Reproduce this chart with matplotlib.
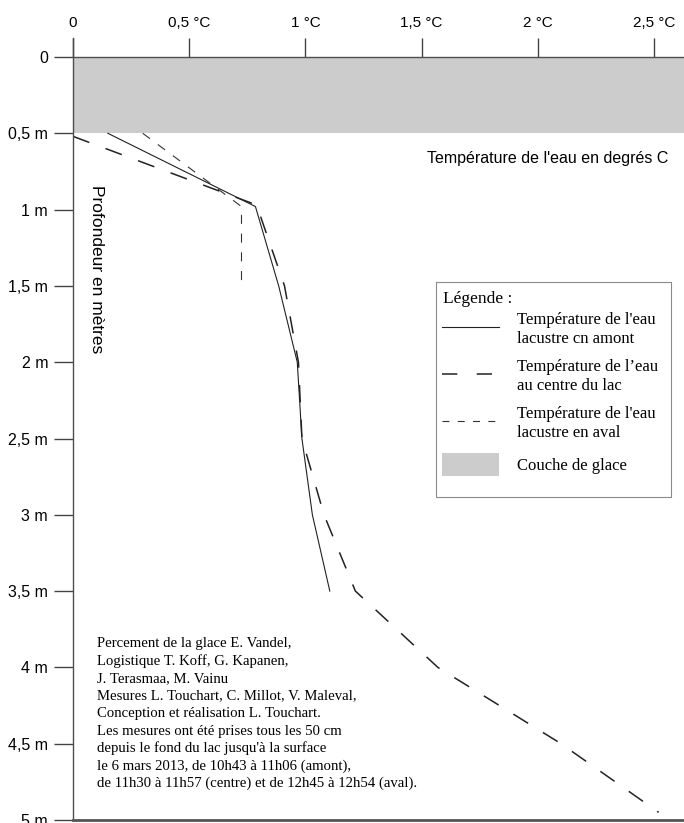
import matplotlib
matplotlib.use('Agg')
import matplotlib.pyplot as plt
from matplotlib.lines import Line2D
from matplotlib.patches import Patch, Rectangle

# profils de temperature sous la glace
depth_amont = [0.5, 0.98, 1.5, 2.0, 2.5, 3.0, 3.5]
temp_amont = [0.15, 0.785, 0.885, 0.965, 0.985, 1.03, 1.105]

depth_centre = [0.52, 0.97, 1.5, 2.0, 2.5, 3.0, 3.5, 4.0, 4.5, 4.95]
temp_centre = [0.0, 0.79, 0.91, 0.97, 0.985, 1.08, 1.215, 1.57, 2.10, 2.52]

depth_aval = [0.5, 0.98, 1.5]
temp_aval = [0.30, 0.725, 0.725]

ice_depth = 0.5

x_ticks = [0, 0.5, 1, 1.5, 2, 2.5]
x_labels = ['0', '0,5 °C', '1 °C', '1,5 °C', '2 °C', '2,5 °C']
y_ticks = [0, 0.5, 1, 1.5, 2, 2.5, 3, 3.5, 4, 4.5, 5]
y_labels = ['0', '0,5 m', '1 m', '1,5 m', '2 m', '2,5 m', '3 m', '3,5 m', '4 m', '4,5 m', '5 m']

legend_labels = ["Température de l'eau\nlacustre cn amont",
                 "Température de l’eau\nau centre du lac",
                 "Température de l'eau\nlacustre en aval",
                 "Couche de glace"]

credits = ["Percement de la glace E. Vandel,",
           "Logistique T. Koff, G. Kapanen,",
           "J. Terasmaa, M. Vainu",
           "Mesures L. Touchart, C. Millot, V. Maleval,",
           "Conception et réalisation L. Touchart.",
           "Les mesures ont été prises tous les 50 cm",
           "depuis le fond du lac jusqu'à la surface",
           "le 6 mars 2013, de 10h43 à 11h06 (amont),",
           "de 11h30 à 11h57 (centre) et de 12h45 à 12h54 (aval)."]

plt.rcParams['lines.scale_dashes'] = False
sans = ['Liberation Sans', 'DejaVu Sans']
serif = ['Liberation Serif', 'DejaVu Serif']

W, H = 684, 823
fig = plt.figure(figsize=(W / 100, H / 100), dpi=100)
ax = fig.add_axes([73 / W, 3 / H, 611 / W, 763 / H])

ice_color = '#cccccc'
ax.axhspan(0, ice_depth, color=ice_color, lw=0, zorder=0)

ax.plot(temp_amont, depth_amont, color='#222222', lw=0.8, ls='-')
ax.plot(temp_centre, depth_centre, color='#222222', lw=1.1, dashes=(12.5, 12.5))
ax.plot(temp_aval, depth_aval, color='#333333', lw=0.8, dashes=(6.5, 7))

ax.set_xlim(0, 2.629)
ax.set_ylim(5, 0)

ax.xaxis.tick_top()
ax.set_xticks(x_ticks)
ax.set_xticklabels(x_labels, family=sans, fontsize=11)
ax.set_yticks(y_ticks)
ax.set_yticklabels(y_labels, family=sans, fontsize=11.5)
ax.tick_params(axis='both', direction='out', length=13.5, width=1, color='#444444')
ax.tick_params(axis='x', pad=6)
ax.tick_params(axis='y', pad=4.5)

ax.spines['right'].set_visible(False)
for side in ['left', 'top']:
    ax.spines[side].set_color('#4d4d4d')
    ax.spines[side].set_linewidth(1.0)
ax.spines['bottom'].set_color('#555555')
ax.spines['bottom'].set_linewidth(2.0)
ax.spines['left'].set_bounds(5, -0.125)

# legende : cadre et titre a part, entrees via ax.legend
ax.add_patch(Rectangle((436 / W, 1 - 497 / H), 235 / W, 215 / H,
                       transform=fig.transFigure, clip_on=False, facecolor='white',
                       edgecolor='#8a8a8a', lw=0.8, zorder=4))
ax.text(443 / W, 1 - 299 / H, 'Légende :', transform=fig.transFigure,
        ha='left', va='center', family=serif, fontsize=12.5, zorder=5)
handles = [Line2D([], [], color='#222222', lw=0.8),
           Line2D([], [], color='#222222', lw=1.1, dashes=(11, 14)),
           Line2D([], [], color='#333333', lw=0.8, dashes=(5, 6)),
           Patch(facecolor=ice_color, edgecolor='none')]
leg = ax.legend(handles, legend_labels, loc='upper left',
                bbox_to_anchor=(442 / W, 1 - 312 / H), bbox_transform=fig.transFigure,
                prop={'family': serif, 'size': 12}, frameon=False,
                handlelength=3.4, handleheight=1.75, handletextpad=1.1,
                labelspacing=0.7, borderpad=0, borderaxespad=0)
for t in leg.get_texts():
    t.set_linespacing(1.27)
leg.set_zorder(5)

fig.text(668 / W, 1 - 158 / H, "Température de l'eau en degrés C",
         ha='right', va='center', family=sans, fontsize=11.5)
fig.text(96 / W, 1 - 269 / H, 'Profondeur en mètres', rotation=-90,
         ha='center', va='center', family=sans, fontsize=12.5)
for i, line in enumerate(credits):
    fig.text(97 / W, 1 - (647 + 17.5 * i) / H, line, ha='left', va='baseline',
             family=serif, fontsize=10.6)

fig.savefig('out.png', dpi=100)
